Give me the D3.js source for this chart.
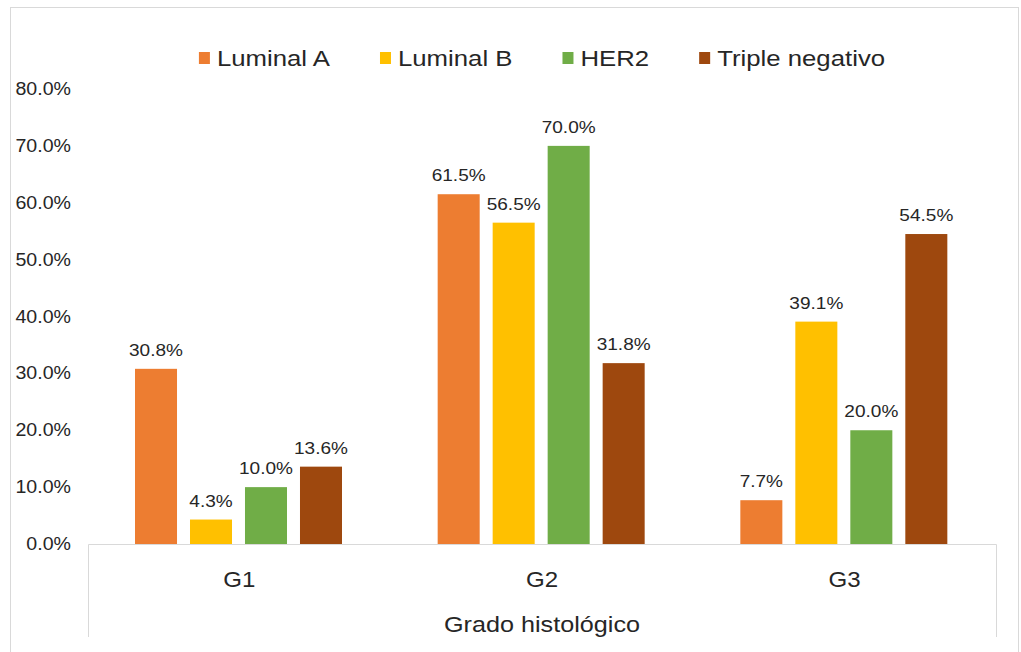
<!DOCTYPE html>
<html>
<head>
<meta charset="utf-8">
<script src="https://cdn.jsdelivr.net/npm/d3@7"></script>
<style>
  body { margin: 0; background: #fff; }
  text { font-family: "Liberation Sans", Arial, sans-serif; fill: #262626; }
</style>
</head>
<body>
<script>
(function() {

  var categories = ["G1", "G2", "G3"],
      series     = ["Luminal A", "Luminal B", "HER2", "Triple negativo"],
      colors     = ["#ED7D31", "#FFC000", "#70AD47", "#9E480E"],
      values     = {
        "Luminal A":       [30.8, 61.5, 7.7],
        "Luminal B":       [4.3, 56.5, 39.1],
        "HER2":            [10.0, 70.0, 20.0],
        "Triple negativo": [13.6, 31.8, 54.5]
      },
      yTicks     = [0, 10, 20, 30, 40, 50, 60, 70, 80],
      axisTitle  = "Grado histológico";

  var W = 1021, H = 652,
      left = 88, right = 996, top = 89, base = 544,
      sx = 1.12,      // picture text is a bit wider than it is tall
      grid = "#d9d9d9";

  var svg = d3.select("body").append("svg")
      .attr("width", W).attr("height", H);

  // wide text helper
  function put(g, x, y, str, size, anchor) {
    return g.append("text")
      .attr("transform", "translate(" + x + "," + y + ") scale(" + sx + ",1)")
      .attr("text-anchor", anchor || "middle")
      .style("font-size", size + "px")
      .text(str);
  }

  // outer frame
  svg.append("rect")
    .attr("x", 10.5).attr("y", 7.5)
    .attr("width", 1008).attr("height", 700)
    .attr("fill", "none").attr("stroke", grid);

  var y  = d3.scaleLinear().domain([0, 80]).range([base, top]),
      x0 = d3.scaleBand().domain(categories).range([left, right]),
      x1 = d3.scaleBand().domain(series).range([47, 254]).paddingInner(0.236);

  // y tick labels
  var ya = svg.append("g");
  yTicks.forEach(function(t) {
    put(ya, 71, y(t) + 6, t.toFixed(1) + "%", 17.5, "end");
  });

  // bars
  var groups = svg.selectAll("g.cat")
    .data(categories)
    .enter().append("g")
      .attr("class", "cat")
      .attr("transform", function(d) { return "translate(" + x0(d) + ",0)"; });

  series.forEach(function(s, si) {
    groups.append("rect")
      .attr("x", x1(s))
      .attr("width", x1.bandwidth())
      .attr("y", function(d, i) { return y(values[s][i]); })
      .attr("height", function(d, i) { return base - y(values[s][i]); })
      .attr("fill", colors[si]);

    groups.each(function(d, i) {
      put(d3.select(this), x1(s) + x1.bandwidth() / 2, y(values[s][i]) - 13,
          values[s][i].toFixed(1) + "%", 17);
    });
  });

  // category axis box
  svg.append("path")
    .attr("d", "M" + (left + 0.5) + ",637V" + (base + 0.5) + "H" + (right + 0.5) + "V637")
    .attr("fill", "none").attr("stroke", grid);

  categories.forEach(function(c) {
    put(svg, x0(c) + x0.bandwidth() / 2, 587, c, 21.5);
  });
  put(svg, (left + right) / 2, 632, axisTitle, 22.5);

  // legend, centred over the plot
  var lg = svg.append("g"), items = [], total = 0, gap = 50;
  series.forEach(function(s, i) {
    var t = put(lg, 0, 0, s, 23, "start");
    var w = t.node().getComputedTextLength() * sx;
    items.push({ t: t, w: w, c: colors[i] });
    total += 18 + w;
  });
  total += gap * (series.length - 1);
  var cx = (left + right) / 2 - total / 2;
  items.forEach(function(it) {
    lg.append("rect")
      .attr("x", cx).attr("y", 52)
      .attr("width", 11).attr("height", 12)
      .attr("fill", it.c);
    it.t.attr("transform", "translate(" + (cx + 18) + ",66) scale(" + sx + ",1)");
    cx += 18 + it.w + gap;
  });

}());
</script>
</body>
</html>
